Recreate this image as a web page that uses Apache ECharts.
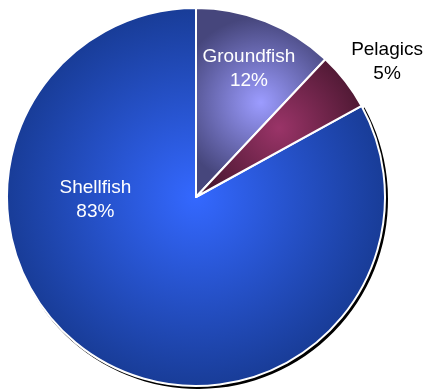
<!DOCTYPE html>
<html>
<head>
<meta charset="utf-8">
<style>
  html, body { margin: 0; padding: 0; background: #ffffff; }
  #chart { width: 424px; height: 389px; }
</style>
<script src="https://cdn.jsdelivr.net/npm/echarts@6/dist/echarts.min.js"></script>
</head>
<body>
<div id="chart"></div>
<script>
// Catch composition by species group (percent of total).
// Shellfish is listed first so it is painted underneath the two smaller slices.
const categories = ['Shellfish', 'Groundfish', 'Pelagics'];
const values = [83, 12, 5];

// Centre and edge colours of each slice's radial shading
const centreColors = ['#3468FF', '#9C9CFF', '#9A3468'];
const edgeColors = ['#102F78', '#46467C', '#4A1730'];
const labelColors = ['#ffffff', '#ffffff', '#000000'];
// Label nudges away from the default inside anchor
const labelOffsets = [[-51, -81], [17, -38], [114, -75]];
// Only the large slice carries a drop shadow
const castsShadow = [true, false, false];

const total = values.reduce((a, b) => a + b, 0);
// Start so that Shellfish ends exactly at 12 o'clock and Groundfish follows clockwise.
const startAngle = 90 - 360 + values[0] / total * 360;

const PIE_CENTER = [196, 197];
const PIE_RADIUS = 189;
const SHADOW_SHIFT = 2;

const chart = echarts.init(document.getElementById('chart'), null, { renderer: 'canvas' });

const mainData = categories.map((name, i) => ({
  name: name,
  value: values[i],
  itemStyle: {
    color: new echarts.graphic.RadialGradient(0.5, 0.5, 0.65, [
      { offset: 0, color: centreColors[i] },
      { offset: 1, color: edgeColors[i] }
    ]),
    borderColor: '#ffffff',
    borderWidth: 2
  },
  label: {
    color: labelColors[i],
    offset: labelOffsets[i]
  }
}));

// Same slices, solid black, nudged down-right and painted first: a hard drop shadow
const shadowData = categories.map((name, i) => ({
  name: name,
  value: values[i],
  itemStyle: {
    color: castsShadow[i] ? '#000000' : 'rgba(0,0,0,0)',
    borderWidth: 0
  }
}));

chart.setOption({
  animation: false,
  backgroundColor: '#ffffff',
  series: [{
    type: 'pie',
    z: 1,
    center: [PIE_CENTER[0] + SHADOW_SHIFT, PIE_CENTER[1] + SHADOW_SHIFT],
    radius: [0, PIE_RADIUS + 1],
    startAngle: startAngle,
    clockwise: true,
    silent: true,
    label: { show: false },
    labelLine: { show: false },
    emphasis: { disabled: true },
    data: shadowData
  }, {
    type: 'pie',
    z: 2,
    center: PIE_CENTER,
    radius: [0, PIE_RADIUS],
    startAngle: startAngle,
    clockwise: true,
    avoidLabelOverlap: false,
    silent: true,
    label: {
      show: true,
      position: 'inside',
      formatter: '{b}\n{d}%',
      fontFamily: 'Liberation Sans, Arial, sans-serif',
      fontSize: 19,
      lineHeight: 24,
      align: 'center',
      verticalAlign: 'middle'
    },
    labelLine: { show: false },
    emphasis: { disabled: true },
    data: mainData
  }]
});
</script>
</body>
</html>
